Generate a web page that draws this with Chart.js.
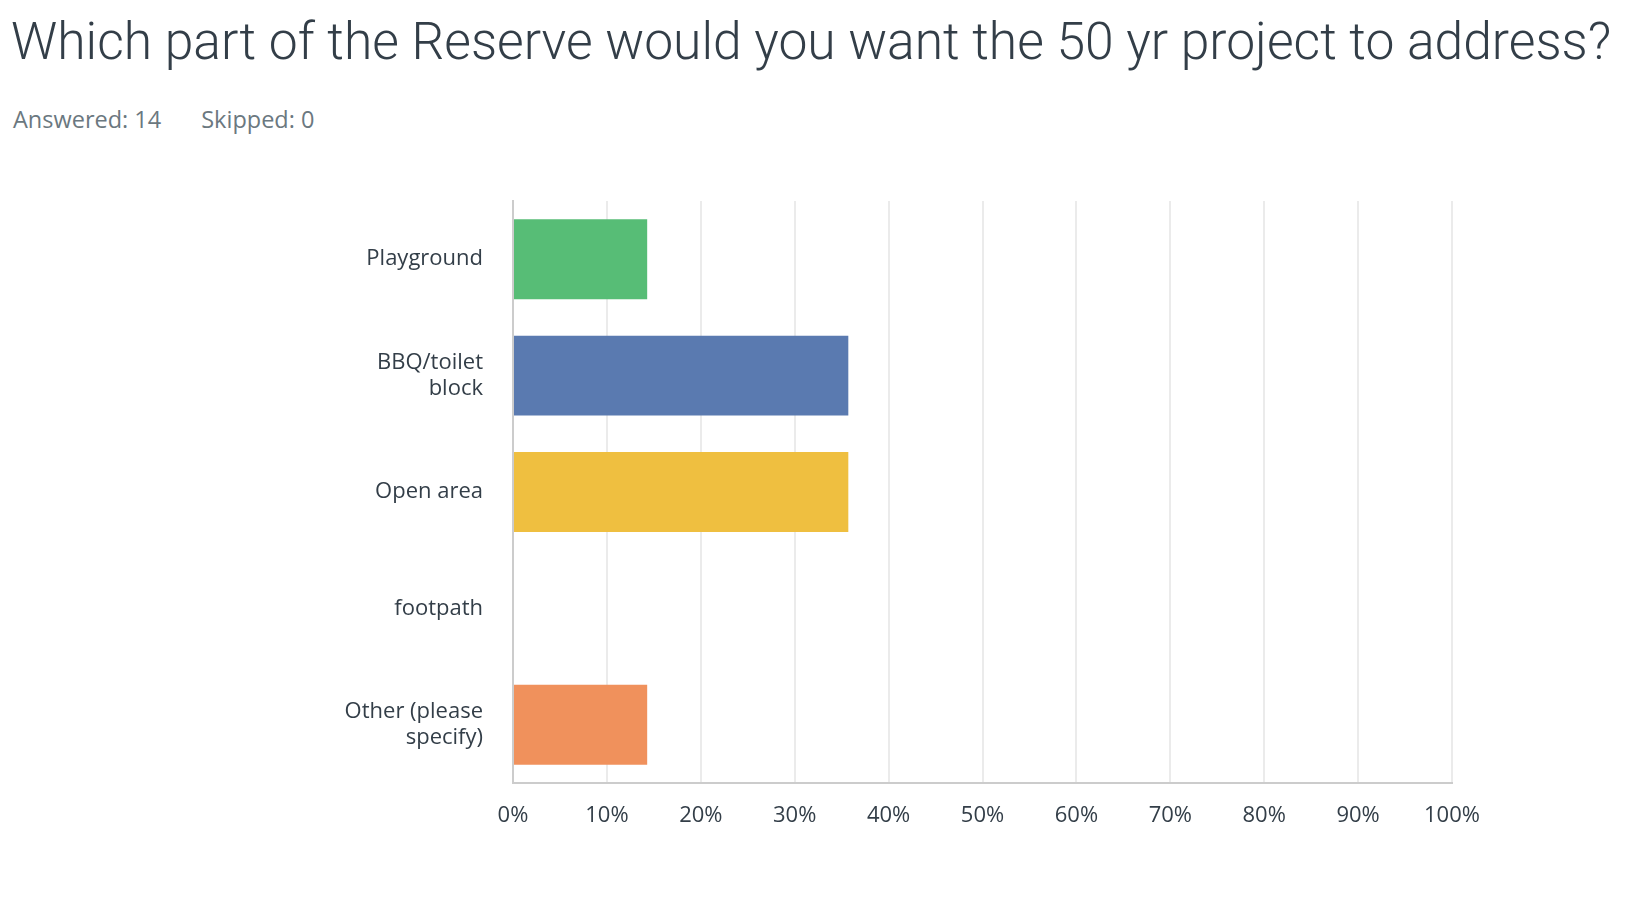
<!DOCTYPE html>
<html>
<head>
<meta charset="utf-8">
<script src="https://cdn.jsdelivr.net/npm/chart.js@4/dist/chart.umd.min.js"></script>
<style>
  html, body { margin: 0; padding: 0; background: #fff; }
  body { width: 1644px; height: 906px; position: relative; overflow: hidden; }
  #title {
    position: absolute; left: 11px; top: 11px; margin: 0;
    font-family: Roboto, sans-serif; font-weight: 300; font-size: 52px;
    line-height: 62px; color: #333e48; white-space: nowrap;
  }
  #meta {
    position: absolute; left: 13px; top: 103px;
    font-family: "Open Sans", sans-serif; font-size: 23.5px; line-height: 32px;
    color: #6b7880; white-space: nowrap;
  }
  #meta span + span { margin-left: 40px; }
  #wrap { position: absolute; left: 0; top: 0; width: 1644px; height: 906px; }
</style>
</head>
<body>
<h1 id="title">Which part of the Reserve would you want the 50 yr project to address?</h1>
<div id="meta"><span>Answered: 14</span><span>Skipped: 0</span></div>
<div id="wrap"><canvas id="chart"></canvas></div>
<script>
// 응답 항목 (줄바꿈된 라벨)
const categories = [
  'Playground',
  ['BBQ/toilet', 'block'],
  'Open area',
  'footpath',
  ['Other (please', 'specify)']
];
// 응답 비율 (%), 14명 기준
const responses = [14.29, 35.71, 35.71, 0, 14.29];
const barColors = ['#57bd76', '#5a7ab0', '#efbf40', '#8b6bb1', '#f0915c'];
const tickValues = [0, 10, 20, 30, 40, 50, 60, 70, 80, 90, 100];

// 제목 폭 맞추기
const title = document.getElementById('title');
const targetWidth = 1600;
title.style.fontSize = (52 * targetWidth / title.scrollWidth) + 'px';

const textColor = '#333e48';
const ctx = document.getElementById('chart').getContext('2d');
new Chart(ctx, {
  type: 'bar',
  data: {
    labels: categories,
    datasets: [{
      data: responses,
      backgroundColor: barColors,
      borderWidth: 0,
      barPercentage: 0.686,
      categoryPercentage: 1
    }]
  },
  options: {
    indexAxis: 'y',
    responsive: true,
    maintainAspectRatio: false,
    animation: false,
    layout: { padding: { top: 201, right: 192, bottom: 0, left: 0 } },
    plugins: {
      legend: { display: false },
      tooltip: { enabled: false }
    },
    scales: {
      x: {
        min: 0,
        max: 100,
        afterBuildTicks: scale => {
          scale.ticks = tickValues.map(v => ({ value: v }));
        },
        afterFit: scale => { scale.height = 123; },
        grid: { color: '#ebebeb', lineWidth: 2, drawTicks: false },
        border: { color: '#cccccc', width: 2 },
        ticks: {
          padding: 20,
          color: textColor,
          font: { family: 'Open Sans', size: 22 },
          maxRotation: 0,
          callback: v => v + '%'
        }
      },
      y: {
        afterFit: scale => { scale.width = 513; },
        grid: { display: false, drawTicks: false },
        border: { color: '#cccccc', width: 2 },
        ticks: {
          padding: 30,
          color: textColor,
          font: { family: 'Open Sans', size: 22, lineHeight: 1.2 }
        }
      }
    }
  }
});
</script>
</body>
</html>
